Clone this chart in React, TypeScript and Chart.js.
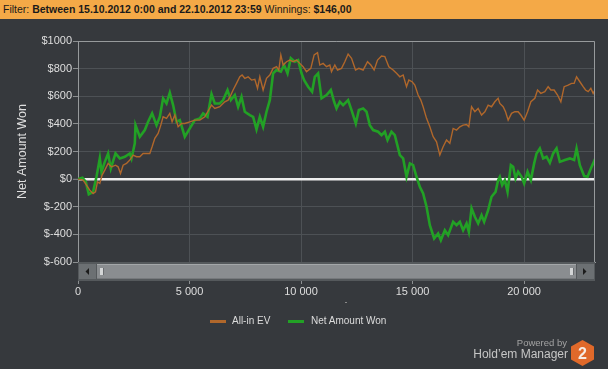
import React, { useEffect, useRef } from 'react';
import { Chart, registerables } from 'chart.js';

Chart.register(...registerables);

const FONT = '"Liberation Sans", Arial, sans-serif';

const headerLabel = 'Filter:';
const headerRange = 'Between 15.10.2012 0:00 and 22.10.2012 23:59';
const headerWinLabel = 'Winnings:';
const headerWinValue = '$146,00';

const seriesNames = ['All-in EV', 'Net Amount Won'];
const seriesColors = ['#b0672b', '#22a125'];

const yTitle = 'Net Amount Won';
const yTickValues = [-600, -400, -200, 0, 200, 400, 600, 800, 1000];
const xTickValues = [0, 5000, 10000, 15000, 20000];
const xMax = 23180;

const evHands = [
  0, 229, 381, 529, 677, 785, 874, 978, 1081, 1202,
  1350, 1502, 1682, 1798, 1906, 2022, 2175, 2323, 2471, 2623,
  2771, 2919, 3072, 3220, 3323, 3444, 3592, 3713, 3816, 3968,
  4116, 4219, 4341, 4489, 4641, 4789, 5013, 5237, 5462, 5686,
  5986, 6134, 6358, 6582, 6731, 6852, 6954, 7107, 7255, 7358,
  7479, 7627, 7780, 7928, 8049, 8152, 8300, 8452, 8600, 8748,
  8901, 9004, 9094, 9197, 9349, 9497, 9645, 9797, 9945, 10093,
  10245, 10439, 10587, 10739, 10842, 10990, 11143, 11291, 11366, 11515,
  11636, 11815, 11963, 12111, 12264, 12443, 12591, 12784, 12981, 13129,
  13277, 13430, 13609, 13757, 13937, 14129, 14282, 14430, 14578, 14730,
  14833, 14981, 15102, 15250, 15371, 15474, 15627, 15775, 15923, 16075,
  16223, 16371, 16523, 16671, 16820, 16972, 17120, 17268, 17421, 17523,
  17645, 17793, 17940, 18093, 18241, 18389, 18541, 18689, 18837, 18913,
  19062, 19169, 19286, 19438, 19586, 19734, 19855, 20003, 20156, 20304,
  20483, 20604, 20752, 20930, 21079, 21200, 21348, 21501, 21649, 21797,
  21976, 22129, 22245, 22353, 22501, 22649, 22757, 22873, 22994, 23097,
  23180,
];
const evValues = [
  0, -7, -43, -80, -104, -92, -20, -31, 29, 65,
  114, 89, 101, 89, 41, 101, 114, 138, 174, 162,
  162, 186, 186, 186, 234, 295, 331, 391, 451, 440,
  476, 415, 464, 379, 403, 403, 415, 427, 427, 451,
  536, 512, 524, 560, 572, 609, 645, 693, 741, 754,
  730, 741, 717, 722, 657, 741, 645, 730, 754, 802,
  814, 790, 899, 826, 850, 862, 850, 862, 838, 814,
  778, 802, 899, 915, 826, 838, 814, 826, 778, 826,
  790, 802, 850, 906, 875, 790, 802, 790, 850, 826,
  790, 862, 891, 887, 814, 790, 766, 741, 754, 669,
  717, 705, 681, 609, 572, 524, 440, 379, 307, 270,
  174, 234, 283, 259, 367, 355, 379, 391, 395, 379,
  524, 488, 512, 464, 488, 536, 524, 560, 585, 548,
  524, 488, 427, 476, 488, 488, 464, 427, 488, 560,
  585, 645, 621, 633, 669, 645, 645, 609, 560, 669,
  681, 693, 693, 741, 705, 669, 645, 633, 657, 621,
  645,
];

const netHands = [
  0, 200, 350, 484, 677, 830, 978, 1054, 1202, 1350,
  1471, 1682, 1874, 2099, 2323, 2399, 2547, 2578, 2771, 2995,
  3143, 3323, 3520, 3668, 3816, 3968, 4116, 4264, 4417, 4565,
  4789, 5013, 5237, 5462, 5609, 5807, 5910, 5986, 6134, 6358,
  6506, 6704, 6852, 7031, 7179, 7331, 7479, 7704, 7852, 8004,
  8152, 8300, 8452, 8600, 8748, 8901, 9094, 9242, 9394, 9542,
  9721, 9869, 10022, 10138, 10318, 10497, 10618, 10766, 10919, 11143,
  11336, 11484, 11591, 11739, 11887, 12111, 12264, 12456, 12591, 12784,
  12936, 13084, 13232, 13456, 13609, 13757, 13878, 14057, 14205, 14430,
  14578, 14730, 14878, 15026, 15178, 15326, 15474, 15627, 15775, 15968,
  16147, 16268, 16447, 16595, 16820, 16972, 17120, 17268, 17421, 17523,
  17645, 17793, 17940, 18093, 18210, 18389, 18541, 18721, 18837, 18913,
  19017, 19138, 19259, 19407, 19510, 19618, 19734, 19886, 20003, 20156,
  20304, 20452, 20559, 20707, 20855, 21008, 21156, 21304, 21456, 21604,
  21828, 22053, 22245, 22353, 22501, 22694, 22846, 22994, 23097, 23180,
];
const netValues = [
  0, 10, -20, -109, -92, 17, 152, 53, 125, 186,
  77, 186, 150, 162, 186, 150, 259, 391, 307, 355,
  415, 476, 391, 451, 585, 548, 625, 536, 415, 427,
  307, 367, 427, 440, 476, 451, 548, 616, 548, 548,
  572, 645, 572, 609, 524, 596, 488, 464, 451, 360,
  451, 379, 488, 572, 766, 790, 778, 826, 766, 875,
  850, 862, 766, 717, 669, 633, 741, 766, 585, 609,
  645, 560, 512, 560, 536, 572, 500, 403, 500, 512,
  488, 391, 355, 343, 319, 343, 283, 343, 319, 174,
  150, 17, 114, 101, 17, -56, -104, -200, -333, -430,
  -394, -442, -370, -406, -309, -333, -309, -370, -321, -382,
  -212, -273, -321, -261, -309, -225, -128, -92, -7, 17,
  -43, -7, -92, 101, 89, 5, 53, 17, -31, 53,
  -7, 114, 186, 222, 150, 162, 118, 186, 222, 125,
  138, 150, 138, 222, 101, 22, 17, 77, 114, 146,
];

const fmtThousands = (v: number) => String(v).replace(/\B(?=(\d{3})+(?!\d))/g, ' ');

const framePlugin = {
  id: 'frameAndScroll',
  afterDraw(chart: any) {
    const { ctx, chartArea } = chart;
    const { left, right, top, bottom } = chartArea;
    ctx.save();
    // top & right plot border
    ctx.strokeStyle = '#979a9c';
    ctx.lineWidth = 1;
    ctx.beginPath();
    ctx.moveTo(left, top + 0.5);
    ctx.lineTo(right - 0.5, top + 0.5);
    ctx.lineTo(right - 0.5, bottom);
    ctx.stroke();
    // scrollbar
    const sy = bottom;
    const sh = 19;
    ctx.fillStyle = '#55595c';
    ctx.fillRect(left, sy, right - left, sh);
    const by = sy + 2;
    const bh = 15;
    // left button
    ctx.fillStyle = '#6c7073';
    ctx.fillRect(left + 1, by, 17, bh);
    ctx.fillStyle = '#1c1c1c';
    ctx.beginPath();
    ctx.moveTo(left + 7.5, by + bh / 2);
    ctx.lineTo(left + 11, by + bh / 2 - 3.5);
    ctx.lineTo(left + 11, by + bh / 2 + 3.5);
    ctx.closePath();
    ctx.fill();
    // right button
    ctx.fillStyle = '#6c7073';
    ctx.fillRect(right - 18, by, 17, bh);
    ctx.fillStyle = '#1c1c1c';
    ctx.beginPath();
    ctx.moveTo(right - 8.5, by + bh / 2);
    ctx.lineTo(right - 12, by + bh / 2 - 3.5);
    ctx.lineTo(right - 12, by + bh / 2 + 3.5);
    ctx.closePath();
    ctx.fill();
    // thumb
    const tx0 = left + 19;
    const tx1 = right - 19;
    ctx.fillStyle = '#8a8d90';
    ctx.fillRect(tx0, by, tx1 - tx0, bh);
    ctx.fillStyle = '#a4a7a9';
    ctx.fillRect(tx0, by, tx1 - tx0, 1);
    ctx.fillStyle = '#76797c';
    ctx.fillRect(tx0, by + bh - 1, tx1 - tx0, 1);
    // grips
    ctx.fillStyle = '#d4d6d7';
    ctx.fillRect(tx0 + 3, by + 4, 3, 7);
    ctx.fillRect(tx1 - 6, by + 4, 3, 7);
    ctx.fillStyle = '#6a6d70';
    ctx.fillRect(tx0 + 6, by + 4, 1, 7);
    ctx.fillRect(tx1 - 3, by + 4, 1, 7);
    ctx.restore();
  },
};

export default function App() {
  const ref = useRef<HTMLCanvasElement>(null);

  useEffect(() => {
    document.body.style.margin = '0';
    const canvas = ref.current;
    if (!canvas) return;
    const chart = new Chart(canvas, {
      type: 'line',
      data: {
        datasets: [
          {
            label: seriesNames[0],
            data: evHands.map((x, i) => ({ x, y: evValues[i] })),
            borderColor: seriesColors[0],
            borderWidth: 1.4,
            pointRadius: 0,
            tension: 0,
            fill: false,
          },
          {
            label: seriesNames[1],
            data: netHands.map((x, i) => ({ x, y: netValues[i] })),
            borderColor: seriesColors[1],
            borderWidth: 2.6,
            pointRadius: 0,
            tension: 0,
            fill: false,
          },
        ],
      },
      options: {
        responsive: false,
        animation: false,
        devicePixelRatio: 1,
        layout: { padding: { top: 41, right: 13, bottom: 67, left: 0 } },
        plugins: {
          legend: { display: false },
          tooltip: { enabled: false },
        },
        scales: {
          x: {
            type: 'linear',
            min: 0,
            max: xMax,
            afterBuildTicks: (s: any) => {
              s.ticks = xTickValues.map((v) => ({ value: v }));
            },
            afterFit: (s: any) => {
              s.height = 40;
            },
            ticks: {
              color: '#dedede',
              font: { family: FONT, size: 11 },
              padding: 1,
              maxRotation: 0,
              autoSkip: false,
              callback: (v: any) => fmtThousands(Number(v)),
            },
            grid: {
              color: '#4d5155',
              tickColor: '#8c8f91',
              tickLength: 22,
              lineWidth: 1,
            },
            border: { color: '#979a9c' },
          },
          y: {
            min: -600,
            max: 1000,
            afterBuildTicks: (s: any) => {
              s.ticks = yTickValues.map((v) => ({ value: v }));
            },
            afterFit: (s: any) => {
              s.width = 78;
            },
            ticks: {
              color: '#dedede',
              font: { family: FONT, size: 11 },
              padding: 1,
              callback: (v: any) => '$' + v,
            },
            grid: {
              color: (c: any) => (c.tick && c.tick.value === 0 ? '#eeeeee' : '#4d5155'),
              lineWidth: (c: any) => (c.tick && c.tick.value === 0 ? 2.6 : 1),
              tickColor: '#8c8f91',
              tickWidth: 1,
              tickLength: 5,
            },
            border: { color: '#979a9c' },
            title: {
              display: true,
              text: yTitle,
              color: '#dedede',
              font: { family: FONT, size: 12.5 },
              padding: { top: 15, bottom: 0 },
            },
          },
        },
      },
      plugins: [framePlugin],
    } as any);
    return () => chart.destroy();
  }, []);

  const legendText: React.CSSProperties = {
    position: 'absolute',
    top: 314,
    fontSize: 10,
    lineHeight: '14px',
    color: '#dcdcdc',
    whiteSpace: 'nowrap',
  };

  return (
    <div
      style={{
        position: 'relative',
        width: 608,
        height: 369,
        background: '#36393d',
        overflow: 'hidden',
        fontFamily: FONT,
      }}
    >
      <canvas
        ref={ref}
        width={608}
        height={369}
        style={{ position: 'absolute', left: 0, top: 0, width: 608, height: 369 }}
      />
      <div
        style={{
          position: 'absolute',
          left: 0,
          top: 0,
          width: 608,
          height: 19,
          background: '#f4a947',
          color: '#1a1a1a',
          fontSize: 10.5,
          lineHeight: '19px',
          paddingLeft: 3,
          boxSizing: 'border-box',
          whiteSpace: 'nowrap',
        }}
      >
        <span>{headerLabel} </span>
        <b>{headerRange}</b>
        <span> {headerWinLabel} </span>
        <b>{headerWinValue}</b>
      </div>
      <div style={{ position: 'absolute', left: 345, top: 302, width: 2, height: 1, background: '#8a8a8a' }} />
      <div style={{ position: 'absolute', left: 210, top: 320, width: 16, height: 3, background: seriesColors[0] }} />
      <div style={{ ...legendText, left: 232 }}>{seriesNames[0]}</div>
      <div style={{ position: 'absolute', left: 288, top: 320, width: 16, height: 3, background: seriesColors[1] }} />
      <div style={{ ...legendText, left: 311 }}>{seriesNames[1]}</div>
      <div
        style={{
          position: 'absolute',
          right: 41,
          top: 337,
          fontSize: 9.5,
          lineHeight: '12px',
          color: '#a3a3a3',
          whiteSpace: 'nowrap',
        }}
      >
        Powered by
      </div>
      <div
        style={{
          position: 'absolute',
          right: 40,
          top: 347,
          fontSize: 12,
          lineHeight: '15px',
          color: '#c6c6c6',
          whiteSpace: 'nowrap',
        }}
      >
        Hold’em Manager
      </div>
      <svg
        width={23}
        height={26}
        viewBox="0 0 23 26"
        style={{ position: 'absolute', left: 571, top: 340 }}
      >
        <polygon points="11.5,0 23,6.5 23,19.5 11.5,26 0,19.5 0,6.5" fill="#e0692a" />
        <text
          x="11.5"
          y="19"
          textAnchor="middle"
          fontFamily={FONT}
          fontWeight="bold"
          fontSize="16"
          fill="#f6ece4"
        >
          2
        </text>
      </svg>
    </div>
  );
}
